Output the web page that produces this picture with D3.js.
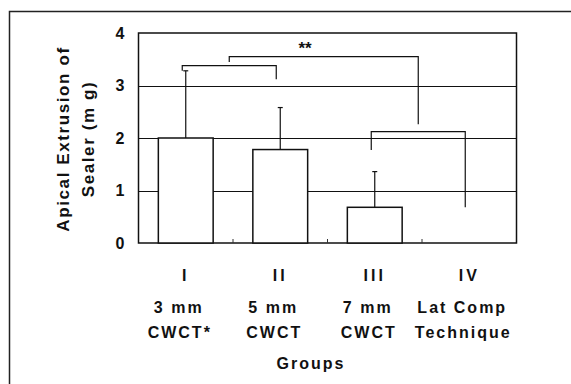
<!DOCTYPE html>
<html>
<head>
<meta charset="utf-8">
<title>Apical extrusion</title>
<script src="https://cdn.jsdelivr.net/npm/d3@7"></script>
<style>
  body { margin: 0; background: #fff; }
  text { font-family: "Liberation Sans", Arial, sans-serif; fill: #111; }
</style>
</head>
<body>
<div id="chart"></div>
<script>
// data
var groups = ["I", "II", "III", "IV"];
var line2 = ["3 mm", "5 mm", "7 mm", "Lat Comp"];
var line3 = ["CWCT*", "CWCT", "CWCT", "Technique"];
var means = [2.0, 1.78, 0.68, 0];
var errTop = [3.28, 2.58, 1.36, null];
var yTicks = [0, 1, 2, 3, 4];
// brackets: [from, to, level, left leg end, right leg end]
var brackets = [
    ["I", "II", 3.38, 3.28, 3.12],
    ["III", "IV", 2.12, 1.77, 0.68]
];
var topBracket = { level: 3.55, leftEnd: 3.45, rightEnd: 2.26, label: "**" };

var width = 571, height = 384;
var pLeft = 138.5, pRight = 516.5, pTop = 33, pBottom = 243;

var svg = d3.select("#chart").append("svg")
    .attr("width", width)
    .attr("height", height);

// outer frame (top and left only)
svg.append("path")
    .attr("d", "M9.5," + height + "V11.5H" + width)
    .attr("fill", "none").attr("stroke", "#222").attr("stroke-width", 1.5);

var x = d3.scaleBand().domain(groups).range([pLeft, pRight]).paddingInner(0.42).paddingOuter(0.21);
var y = d3.scaleLinear().domain([0, 4]).range([pBottom, pTop]);
var bw = x.bandwidth();
function cx(g) { return x(g) + bw / 2; }

// grid lines
svg.append("g").selectAll("line").data(yTicks.slice(1, 4)).enter().append("line")
    .attr("x1", pLeft).attr("x2", pRight)
    .attr("y1", function(d){ return Math.round(y(d)) + 0.5; })
    .attr("y2", function(d){ return Math.round(y(d)) + 0.5; })
    .attr("stroke", "#111").attr("stroke-width", 1.2);

// plot box
svg.append("rect")
    .attr("x", pLeft).attr("y", pTop)
    .attr("width", pRight - pLeft).attr("height", pBottom - pTop)
    .attr("fill", "none").attr("stroke", "#111").attr("stroke-width", 1.5);

// ticks on the base between groups
svg.append("g").selectAll("line").data(groups.slice(1)).enter().append("line")
    .attr("x1", function(d){ return x(d) - x.step() * 0.21; })
    .attr("x2", function(d){ return x(d) - x.step() * 0.21; })
    .attr("y1", pBottom).attr("y2", pBottom - 4)
    .attr("stroke", "#333");

// error bars
var eb = svg.append("g");
groups.forEach(function(g, i){
    if (errTop[i] == null) return;
    eb.append("line")
        .attr("x1", cx(g)).attr("x2", cx(g))
        .attr("y1", y(means[i])).attr("y2", y(errTop[i]))
        .attr("stroke", "#111").attr("stroke-width", 1.2);
    eb.append("line")
        .attr("x1", cx(g) - 2.5).attr("x2", cx(g) + 2.5)
        .attr("y1", y(errTop[i])).attr("y2", y(errTop[i]))
        .attr("stroke", "#111").attr("stroke-width", 1.2);
});

// bars
svg.append("g").selectAll("rect").data(means).enter().append("rect")
    .attr("x", function(d, i){ return x(groups[i]); })
    .attr("y", function(d){ return y(d); })
    .attr("width", bw)
    .attr("height", function(d){ return y(0) - y(d); })
    .attr("fill", "#fff").attr("stroke", "#111").attr("stroke-width", 1.5);

// significance brackets
var bg = svg.append("g").attr("fill", "none").attr("stroke", "#111").attr("stroke-width", 1.2);
var mids = [];
brackets.forEach(function(b){
    var x1 = cx(b[0]) - 3.5, x2 = cx(b[1]) - 4;
    mids.push((x1 + x2) / 2);
    bg.append("path")
        .attr("d", "M" + x1 + "," + y(b[3]) + "V" + y(b[2]) + "H" + x2 + "V" + y(b[4]));
});
bg.append("path")
    .attr("d", "M" + mids[0] + "," + y(topBracket.leftEnd) + "V" + y(topBracket.level) +
        "H" + mids[1] + "V" + y(topBracket.rightEnd));
svg.append("text")
    .attr("x", 305).attr("y", 54)
    .attr("text-anchor", "middle")
    .style("font-size", "17px").style("font-weight", "bold")
    .text(topBracket.label);

// y tick labels
svg.append("g").selectAll("text").data(yTicks).enter().append("text")
    .attr("x", 120).attr("y", function(d){ return y(d); })
    .attr("dy", "0.36em")
    .attr("text-anchor", "middle")
    .style("font-size", "16px").style("font-weight", "bold")
    .text(function(d){ return d; });

// y axis title
var yt = svg.append("text")
    .attr("transform", "translate(69,139) rotate(-90)")
    .attr("text-anchor", "middle")
    .style("font-size", "17px").style("font-weight", "bold")
    .style("letter-spacing", "1.6px");
yt.append("tspan").attr("x", 0).attr("dy", 0).text("Apical Extrusion of");
yt.append("tspan").attr("x", 0).attr("dy", 25).text("Sealer (m g)");

// x labels
var xl = svg.append("g").style("font-size", "16px").style("font-weight", "bold")
    .style("letter-spacing", "2px");
xl.selectAll(".roman").data(groups).enter().append("text")
    .attr("x", function(d){ return cx(d); }).attr("y", 281)
    .attr("text-anchor", "middle").style("letter-spacing", "3px").text(function(d){ return d; });
xl.selectAll(".l2").data(line2).enter().append("text")
    .attr("x", function(d, i){ return cx(groups[i]) - 7; }).attr("y", 312.5)
    .attr("text-anchor", "middle")
    .text(function(d){ return d; });
xl.selectAll(".l3").data(line3).enter().append("text")
    .attr("x", function(d, i){ return cx(groups[i]) - 6; }).attr("y", 337.5)
    .attr("text-anchor", "middle")
    .text(function(d){ return d; });
xl.append("text")
    .attr("x", 311).attr("y", 369)
    .attr("text-anchor", "middle")
    .text("Groups");
</script>
</body>
</html>
